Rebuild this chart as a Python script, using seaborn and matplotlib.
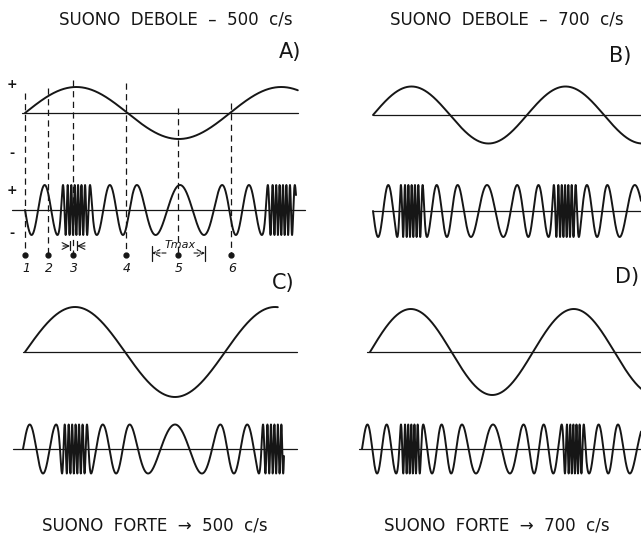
import numpy as np
import pandas as pd
import matplotlib
matplotlib.use("Agg")
import matplotlib.pyplot as plt
import seaborn as sns

# panel labels and captions
PANEL_LABELS = ["A)", "B)", "C)", "D)"]
TITLES = ["SUONO  DEBOLE  –  500  c/s", "SUONO  DEBOLE  –  700  c/s",
          "SUONO  FORTE  →  500  c/s", "SUONO  FORTE  →  700  c/s"]

# modulating (sound) wave (pixel units)
MOD_AXIS_Y = [113, 115, 352, 352]
MOD_AMP = [26, 28.5, 45, 43]
MOD_START = [25, 373, 25, 370]
MOD_PERIOD = [205, 154, 200, 163]
MOD_END = [298, 660, 278, 660]
MOD_AXIS_LEFT = [22, 373, 23, 367]
MOD_AXIS_RIGHT = [298, 660, 297, 660]

# frequency-modulated carrier
CAR_AXIS_Y = [210, 211, 449, 449]
CAR_AMP = [25, 26, 24.5, 24.5]
CAR_START = [25, 373, 23, 362]
CAR_END = [296, 660, 284, 660]
CAR_DIR = [-1, -1, 1, 1]
CAR_WIDE_CREST = [180, 487, 175, 493]   # broad crest at the sound-pressure minimum
CAR_AXIS_LEFT = [12, 373, 13, 359]
CAR_AXIS_RIGHT = [305, 660, 297, 660]
PERIOD_AT_ZERO = [27, 20, 27, 20]
PERIOD_AT_TROUGH = [53, 33, 60, 37]
PEAK_FREQ = [0.25, 0.26, 0.25, 0.26]
PEAK_WIDTH = [0.09, 0.12, 0.09, 0.08]

# time marks in panel A
MARK_X = [25, 48, 73, 126, 178, 231]
MARK_TOP = [93, 88, 80, 83, 108, 103]
MARK_LABELS = ["1", "2", "3", "4", "5", "6"]
MARK_DOT_Y = 255
TMAX_RANGE = [152, 205]
TMIN_RANGE = [70, 77]

INK = "#161616"


def build_waves(i, dx=0.02):
    x = np.arange(CAR_START[i], CAR_END[i], dx)
    m = np.sin(2 * np.pi * (x - MOD_START[i]) / MOD_PERIOD[i])
    pz, pt = PERIOD_AT_ZERO[i], PERIOD_AT_TROUGH[i]
    # slower while the sound pressure is negative, a burst near the crest
    f = (1.0 / pz) * (pz / pt) ** np.maximum(-m, 0)
    f = f + PEAK_FREQ[i] * np.exp(-((1 - m) / PEAK_WIDTH[i]) ** 2)
    phase = 2 * np.pi * np.cumsum(f) * dx
    phase -= phase[0]
    # stretch slightly so the broad crest sits where the drawing has it
    k = np.searchsorted(x, CAR_WIDE_CREST[i])
    base = 0.5 * np.pi if CAR_DIR[i] > 0 else 1.5 * np.pi
    target = base + 2 * np.pi * np.round((phase[k] - base) / (2 * np.pi))
    phase *= target / phase[k]
    car = pd.DataFrame({"x": x, "y": CAR_AXIS_Y[i] - CAR_DIR[i] * CAR_AMP[i] * np.sin(phase)})

    xm = np.arange(MOD_START[i], MOD_END[i], 0.2)
    mm = np.sin(2 * np.pi * (xm - MOD_START[i]) / MOD_PERIOD[i])
    mod = pd.DataFrame({"x": xm, "y": MOD_AXIS_Y[i] - MOD_AMP[i] * mm})
    return mod, car


sns.set_theme(style="white")
plt.rcParams["font.family"] = ["DejaVu Sans"]

fig = plt.figure(figsize=(6.41, 5.41), dpi=100)
ax = fig.add_axes([0, 0, 1, 1])
ax.set_xlim(0, 641)
ax.set_ylim(541, 0)
ax.axis("off")

for i in range(4):
    mod, car = build_waves(i)
    ax.plot([MOD_AXIS_LEFT[i], MOD_AXIS_RIGHT[i]], [MOD_AXIS_Y[i]] * 2, color=INK, lw=0.9)
    ax.plot([CAR_AXIS_LEFT[i], CAR_AXIS_RIGHT[i]], [CAR_AXIS_Y[i]] * 2, color=INK, lw=0.9)
    sns.lineplot(data=mod, x="x", y="y", ax=ax, color=INK, lw=1.4, sort=False, estimator=None)
    sns.lineplot(data=car, x="x", y="y", ax=ax, color=INK, lw=1.4, sort=False, estimator=None)

# captions
ax.text(176, 19, TITLES[0], ha="center", va="center", fontsize=12, color=INK)
ax.text(507, 19, TITLES[1], ha="center", va="center", fontsize=12, color=INK)
ax.text(155, 526, TITLES[2], ha="center", va="center", fontsize=12, color=INK)
ax.text(497, 526, TITLES[3], ha="center", va="center", fontsize=12, color=INK)

# panel letters
for lab, (px, py) in zip(PANEL_LABELS, [(290, 52), (620, 56), (283, 283), (627, 277)]):
    ax.text(px, py, lab, ha="center", va="center", fontsize=15, color=INK)

# signs on the left of panel A
for sgn, py in [("+", 84), ("-", 153), ("+", 191), ("-", 233)]:
    ax.text(12, py, sgn, ha="center", va="center", fontsize=9, fontweight="bold", color=INK)

# dashed time marks with dots and numbers
for xm, top, lab in zip(MARK_X, MARK_TOP, MARK_LABELS):
    ax.plot([xm, xm], [top, MARK_DOT_Y], color=INK, lw=0.9, ls=(0, (5, 3.5)))
    ax.plot(xm, MARK_DOT_Y, "o", color=INK, ms=3.5)
    ax.text(xm + 1, 269, lab, ha="center", va="center", fontsize=9, style="italic", color=INK)

# Tmax dimension
arrow = dict(arrowstyle="->", color=INK, lw=0.8, shrinkA=0, shrinkB=0)
t0, t1 = TMAX_RANGE
for xe in (t0, t1):
    ax.plot([xe, xe], [246, 261], color=INK, lw=0.9)
ax.annotate("", xy=(t0, 253), xytext=(166, 253), arrowprops=dict(arrow, ls="--"))
ax.annotate("", xy=(t1, 253), xytext=(194, 253), arrowprops=dict(arrow, ls="--"))
ax.text(180, 245, "Tmax", ha="center", va="center", fontsize=8, style="italic", color=INK)

# Tmin dimension near mark 3
m0, m1 = TMIN_RANGE
for xe in (m0, m1):
    ax.plot([xe, xe], [241, 250], color=INK, lw=0.9)
ax.annotate("", xy=(m0, 246), xytext=(63, 246), arrowprops=arrow)
ax.annotate("", xy=(m1, 246), xytext=(85, 246), arrowprops=arrow)

fig.savefig("out.png", dpi=100, facecolor="white")
